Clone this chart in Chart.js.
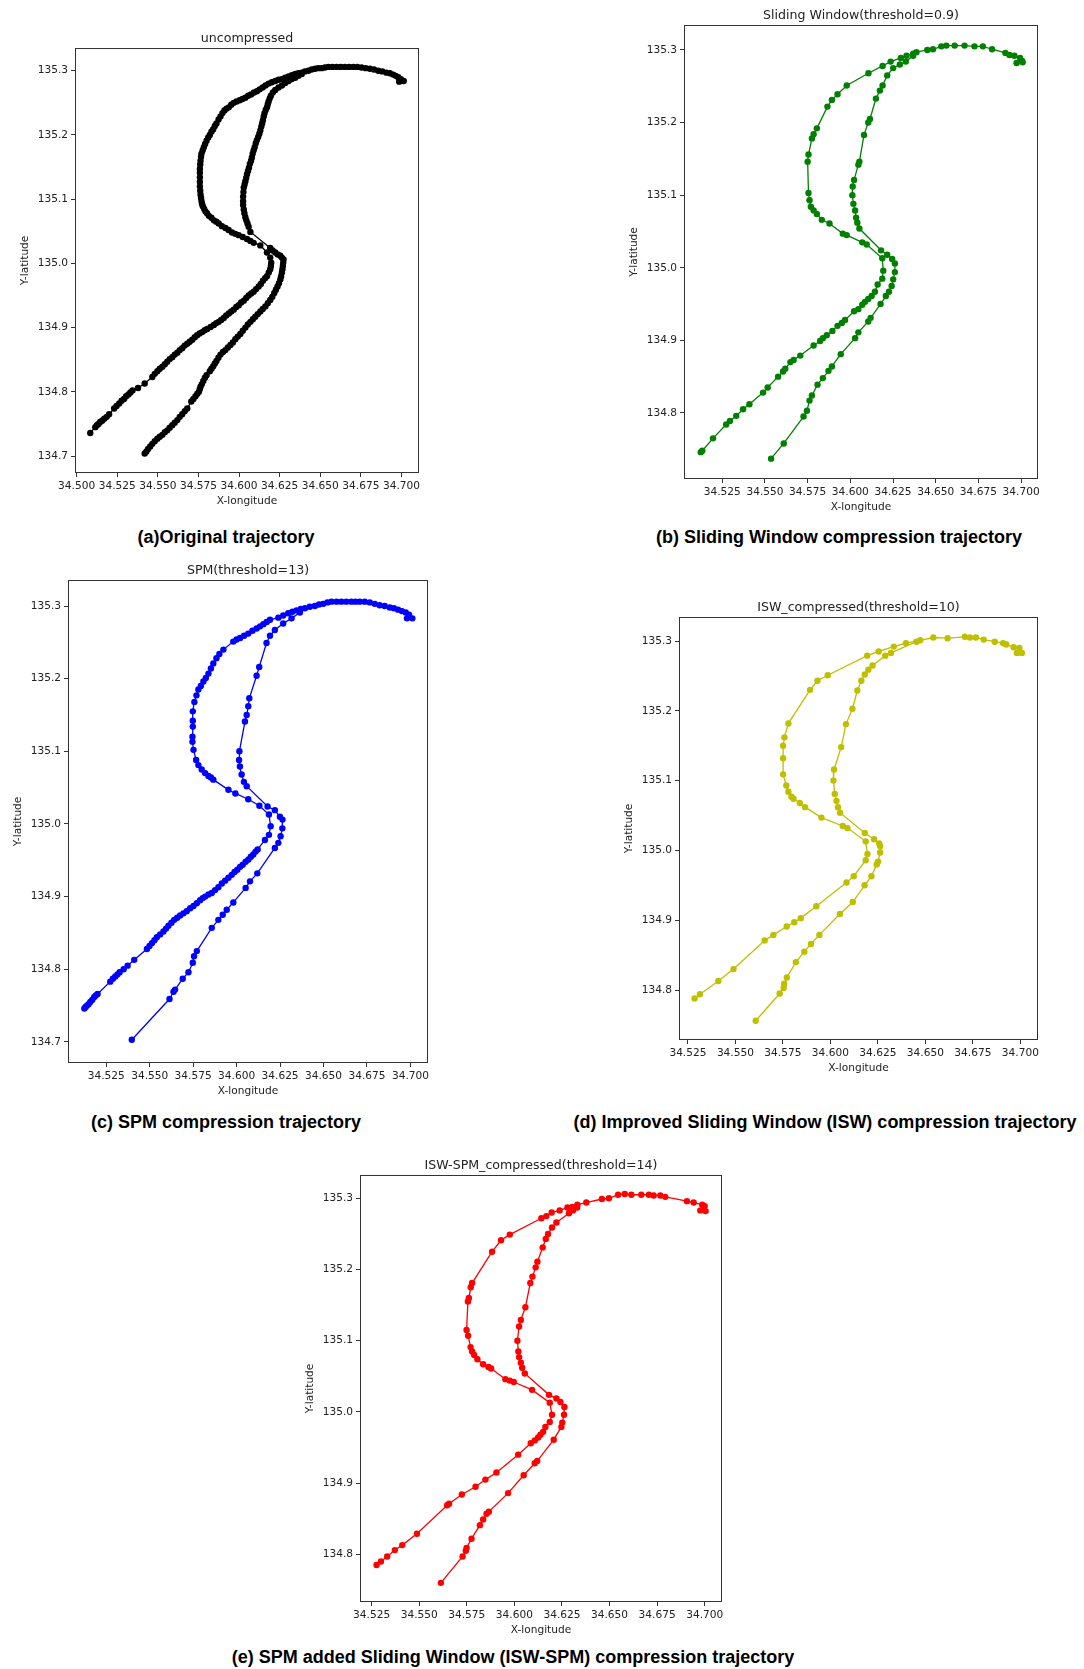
<!DOCTYPE html>
<html>
<head>
<meta charset="utf-8">
<script src="https://cdn.jsdelivr.net/npm/chart.js@4.4.0/dist/chart.umd.min.js"></script>
<style>
    body { margin: 0; background: #fff; width: 1084px; height: 1669px; position: relative; overflow: hidden; }
    canvas { position: absolute; }
    .caption {
        position: absolute;
        font: bold 18px "Liberation Sans", Arial, sans-serif;
        color: #000;
        white-space: nowrap;
        transform: translate(-50%, -50%);
    }
</style>
</head>
<body>
<canvas id="chart_a"></canvas>
<canvas id="chart_b"></canvas>
<canvas id="chart_c"></canvas>
<canvas id="chart_d"></canvas>
<canvas id="chart_e"></canvas>
<div class="caption" style="left:226px; top:537px">(a)Original trajectory</div>
<div class="caption" style="left:839px; top:537px">(b) Sliding Window compression trajectory</div>
<div class="caption" style="left:226px; top:1122px">(c) SPM compression trajectory</div>
<div class="caption" style="left:825px; top:1122px">(d) Improved Sliding Window (ISW) compression trajectory</div>
<div class="caption" style="left:513px; top:1657px">(e) SPM added Sliding Window (ISW-SPM) compression trajectory</div>
<script>
// (a) uncompressed trajectory, [longitude, latitude]
const origOuter = [
    [34.5084, 134.736], [34.5115, 134.745], [34.5125, 134.748], [34.5135, 134.750], [34.5145, 134.753],
    [34.5157, 134.755], [34.517, 134.758], [34.5185, 134.761], [34.52, 134.765],
    [34.5231, 134.774], [34.5246, 134.778], [34.5262, 134.782], [34.5277, 134.786], [34.5292, 134.789],
    [34.5305, 134.793], [34.5319, 134.796], [34.5331, 134.799], [34.5344, 134.802],
    [34.5378, 134.806], [34.5419, 134.813],
    [34.5466, 134.823], [34.5481, 134.828], [34.5497, 134.832], [34.5512, 134.836], [34.5528, 134.839],
    [34.5543, 134.843], [34.5558, 134.847], [34.5573, 134.851], [34.5589, 134.854], [34.5604, 134.858],
    [34.562, 134.861], [34.5635, 134.865], [34.565, 134.868], [34.5665, 134.872], [34.5681, 134.875],
    [34.5696, 134.878], [34.5712, 134.881], [34.5727, 134.885], [34.5742, 134.888], [34.5757, 134.891],
    [34.5773, 134.893], [34.5789, 134.896], [34.5804, 134.898], [34.5825, 134.901], [34.5845, 134.904],
    [34.586, 134.907], [34.5875, 134.909], [34.589, 134.912], [34.5906, 134.915], [34.5921, 134.919],
    [34.5937, 134.922], [34.5952, 134.925], [34.5967, 134.928], [34.5983, 134.932], [34.5998, 134.935],
    [34.6013, 134.939], [34.6029, 134.942], [34.6044, 134.946], [34.6059, 134.950], [34.6075, 134.953],
    [34.609, 134.956], [34.6105, 134.960], [34.6121, 134.964], [34.6134, 134.968], [34.6147, 134.973],
    [34.616, 134.977], [34.6172, 134.980], [34.6183, 134.986], [34.6192, 134.991], [34.6196, 134.996],
    [34.6198, 135.001], [34.6192, 135.009], [34.6172, 135.017],
    [34.6131, 135.028], [34.609, 135.032], [34.607, 135.035], [34.6049, 135.038], [34.6023, 135.041],
    [34.5998, 135.044], [34.5977, 135.046], [34.5957, 135.048], [34.5936, 135.052], [34.5916, 135.055],
    [34.5895, 135.058], [34.5875, 135.062], [34.586, 135.065], [34.5845, 135.067], [34.583, 135.071],
    [34.5814, 135.074], [34.5803, 135.078], [34.5793, 135.081], [34.5785, 135.085], [34.5777, 135.089],
    [34.5772, 135.093], [34.5769, 135.097], [34.5766, 135.102], [34.5763, 135.107], [34.5761, 135.113],
    [34.5759, 135.120], [34.5759, 135.127], [34.5759, 135.134], [34.5759, 135.141], [34.5759, 135.147],
    [34.5761, 135.154], [34.5763, 135.160], [34.5766, 135.166], [34.5769, 135.171], [34.5776, 135.176],
    [34.5783, 135.181], [34.5791, 135.186], [34.58, 135.191], [34.581, 135.196], [34.582, 135.200],
    [34.583, 135.205], [34.5841, 135.209], [34.5851, 135.214], [34.5861, 135.218], [34.5874, 135.224],
    [34.5886, 135.229], [34.5898, 135.234], [34.591, 135.238], [34.5923, 135.241], [34.5937, 135.243],
    [34.5952, 135.247], [34.5967, 135.250], [34.5985, 135.252], [34.6004, 135.254], [34.6021, 135.256],
    [34.6039, 135.258], [34.6056, 135.261], [34.6074, 135.263], [34.6092, 135.266], [34.611, 135.268],
    [34.6127, 135.271], [34.6145, 135.274], [34.6163, 135.277], [34.6182, 135.280], [34.6202, 135.282],
    [34.6223, 135.284], [34.6243, 135.286], [34.6264, 135.287], [34.6284, 135.289], [34.6305, 135.291],
    [34.6325, 135.293], [34.6346, 135.295], [34.6366, 135.296], [34.6386, 135.297], [34.6406, 135.299],
    [34.6427, 135.300], [34.6447, 135.302], [34.6468, 135.303], [34.6488, 135.304], [34.6509, 135.304],
    [34.6529, 135.305], [34.655, 135.306], [34.6575, 135.306], [34.6601, 135.306], [34.6626, 135.306],
    [34.6652, 135.306], [34.6677, 135.306], [34.6703, 135.306], [34.6728, 135.306], [34.6754, 135.305],
    [34.678, 135.304], [34.6806, 135.303], [34.6831, 135.302], [34.6857, 135.300], [34.6882, 135.299],
    [34.6908, 135.297], [34.6929, 135.296], [34.6949, 135.294], [34.6965, 135.292], [34.698, 135.290],
    [34.6996, 135.287], [34.6986, 135.283], [34.7014, 135.284]
];
const origInner = [
    [34.6386, 135.295], [34.6366, 135.292], [34.6346, 135.289], [34.6325, 135.287], [34.6305, 135.284],
    [34.6284, 135.281], [34.6264, 135.277], [34.6243, 135.274], [34.6223, 135.270], [34.6208, 135.266],
    [34.6196, 135.261], [34.6189, 135.257], [34.6182, 135.252], [34.6177, 135.248], [34.6172, 135.243],
    [34.6164, 135.239], [34.6157, 135.234], [34.6152, 135.229], [34.6147, 135.223], [34.6142, 135.218],
    [34.6137, 135.213], [34.6131, 135.207], [34.6125, 135.202], [34.6118, 135.197], [34.611, 135.192],
    [34.6103, 135.187], [34.6096, 135.181], [34.609, 135.176], [34.6084, 135.171], [34.6079, 135.165],
    [34.6074, 135.160], [34.6067, 135.155], [34.6061, 135.149], [34.6055, 135.144], [34.6049, 135.139],
    [34.6044, 135.133], [34.6039, 135.128], [34.6034, 135.123], [34.6029, 135.118], [34.6027, 135.111],
    [34.6025, 135.104], [34.6025, 135.097], [34.6025, 135.091], [34.6029, 135.084], [34.6033, 135.078],
    [34.6039, 135.072], [34.6045, 135.067], [34.6052, 135.062], [34.6059, 135.057], [34.607, 135.049],
    [34.6192, 135.024], [34.6207, 135.020], [34.6223, 135.017], [34.6238, 135.014], [34.6254, 135.012],
    [34.6264, 135.009], [34.6274, 135.006], [34.6272, 135.001], [34.627, 134.996], [34.6267, 134.991],
    [34.6264, 134.986], [34.6259, 134.980], [34.6254, 134.975], [34.6246, 134.969], [34.6237, 134.964],
    [34.6227, 134.959], [34.6217, 134.954], [34.6205, 134.948], [34.6192, 134.943], [34.6177, 134.938],
    [34.6162, 134.933], [34.6146, 134.929], [34.6131, 134.925], [34.6115, 134.921], [34.61, 134.917],
    [34.6085, 134.913], [34.607, 134.909], [34.6054, 134.905], [34.6039, 134.900], [34.6023, 134.895],
    [34.6008, 134.890], [34.5992, 134.886], [34.5977, 134.882], [34.5962, 134.877], [34.5947, 134.873],
    [34.5931, 134.869], [34.5916, 134.865], [34.5901, 134.862], [34.5886, 134.858], [34.5873, 134.853],
    [34.5861, 134.848], [34.5851, 134.844], [34.5841, 134.840], [34.583, 134.836], [34.582, 134.832],
    [34.58, 134.826], [34.579, 134.822], [34.578, 134.817], [34.5771, 134.812], [34.5763, 134.808],
    [34.5758, 134.804], [34.5753, 134.800], [34.5743, 134.797], [34.5732, 134.793], [34.5719, 134.789],
    [34.5706, 134.785], [34.5681, 134.774], [34.5666, 134.770], [34.565, 134.765], [34.5635, 134.761],
    [34.562, 134.756], [34.5604, 134.752], [34.5589, 134.748], [34.5573, 134.744], [34.5558, 134.740],
    [34.5543, 134.737], [34.5528, 134.733], [34.5512, 134.730], [34.5497, 134.727], [34.5481, 134.723],
    [34.5466, 134.719], [34.5453, 134.715], [34.544, 134.711], [34.543, 134.707], [34.5419, 134.704]
];

// (b) Sliding Window
const swOuter = [
    [34.5124, 134.746], [34.5133, 134.748], [34.5196, 134.765], [34.5273, 134.784], [34.5295, 134.789],
    [34.5332, 134.796], [34.5372, 134.805], [34.5409, 134.812], [34.5489, 134.828], [34.5516, 134.835],
    [34.5577, 134.850], [34.5606, 134.857], [34.5619, 134.861], [34.5649, 134.870], [34.5668, 134.873],
    [34.5707, 134.879], [34.5785, 134.893], [34.5823, 134.899], [34.5839, 134.903], [34.5862, 134.907],
    [34.5895, 134.913], [34.5925, 134.920], [34.595, 134.924], [34.5969, 134.928], [34.6022, 134.940],
    [34.6047, 134.943], [34.607, 134.949], [34.6086, 134.953], [34.6105, 134.957], [34.6125, 134.961],
    [34.6144, 134.967], [34.616, 134.977], [34.6187, 134.985], [34.6193, 134.996], [34.6187, 135.013],
    [34.6096, 135.032], [34.607, 135.035], [34.5979, 135.045], [34.5956, 135.047], [34.5878, 135.061],
    [34.5833, 135.066], [34.5804, 135.074], [34.5785, 135.079], [34.5769, 135.084], [34.5761, 135.093],
    [34.5755, 135.103], [34.575, 135.146], [34.5755, 135.156], [34.5775, 135.178], [34.5785, 135.184],
    [34.5804, 135.192], [34.5866, 135.222], [34.5892, 135.231], [34.5925, 135.239], [34.5979, 135.251],
    [34.6106, 135.268], [34.6189, 135.278], [34.6236, 135.284], [34.6296, 135.289], [34.6329, 135.292],
    [34.6368, 135.295], [34.6387, 135.297], [34.6451, 135.300], [34.6484, 135.301], [34.6533, 135.305],
    [34.6562, 135.306], [34.6611, 135.306], [34.6669, 135.306], [34.6727, 135.305], [34.6776, 135.305],
    [34.683, 135.301], [34.6908, 135.296], [34.6932, 135.293], [34.6961, 135.292], [34.6994, 135.289],
    [34.7006, 135.285], [34.6974, 135.282], [34.7009, 135.283]
];
const swInner = [
    [34.6368, 135.292], [34.6325, 135.284], [34.629, 135.280], [34.6251, 135.275], [34.6216, 135.265],
    [34.6189, 135.251], [34.6173, 135.244], [34.615, 135.233], [34.6115, 135.205], [34.6105, 135.200],
    [34.608, 135.183], [34.6053, 135.146], [34.6047, 135.142], [34.6022, 135.121], [34.6014, 135.112],
    [34.6012, 135.100], [34.6018, 135.088], [34.6028, 135.079], [34.6034, 135.069], [34.6041, 135.062],
    [34.6053, 135.054], [34.618, 135.024], [34.6216, 135.018], [34.6245, 135.012], [34.6261, 135.006],
    [34.6261, 134.994], [34.6251, 134.984], [34.6242, 134.975], [34.6226, 134.967], [34.6208, 134.961],
    [34.6177, 134.950], [34.6119, 134.931], [34.6105, 134.926], [34.6047, 134.911], [34.6028, 134.903],
    [34.5944, 134.881], [34.5892, 134.864], [34.5872, 134.858], [34.5839, 134.848], [34.5808, 134.839],
    [34.5775, 134.824], [34.5761, 134.817], [34.5746, 134.803], [34.5726, 134.795], [34.561, 134.758],
    [34.5536, 134.737]
];

// (c) SPM
const spmOuter = [
    [34.5124, 134.746], [34.5131, 134.748], [34.5139, 134.750], [34.5148, 134.752], [34.5158, 134.755],
    [34.517, 134.758], [34.5181, 134.762], [34.519, 134.764], [34.52, 134.766],
    [34.5273, 134.783], [34.5288, 134.787], [34.5302, 134.790], [34.5315, 134.793], [34.5327, 134.796],
    [34.535, 134.800], [34.5373, 134.805], [34.5411, 134.813],
    [34.5484, 134.828], [34.5499, 134.832], [34.5513, 134.836], [34.5527, 134.840], [34.5541, 134.844],
    [34.556, 134.848], [34.5579, 134.852], [34.5594, 134.856], [34.5608, 134.860], [34.5625, 134.864],
    [34.5641, 134.868], [34.5658, 134.871], [34.5675, 134.874], [34.5694, 134.877], [34.5713, 134.880],
    [34.5733, 134.884], [34.5752, 134.887], [34.5771, 134.891], [34.579, 134.895], [34.5805, 134.898],
    [34.5819, 134.900], [34.5838, 134.903], [34.5857, 134.905], [34.5876, 134.909], [34.5895, 134.913],
    [34.5915, 134.918], [34.5934, 134.922], [34.5953, 134.926], [34.5972, 134.930], [34.5988, 134.934],
    [34.6004, 134.937], [34.602, 134.941], [34.6035, 134.944], [34.6052, 134.948], [34.6068, 134.951],
    [34.6082, 134.955], [34.6096, 134.958], [34.6109, 134.962], [34.6121, 134.965],
    [34.6163, 134.978], [34.6186, 134.985], [34.6196, 134.997], [34.6186, 135.013], [34.6131, 135.025],
    [34.6067, 135.034], [34.5993, 135.042], [34.5953, 135.047], [34.5866, 135.061], [34.5852, 135.064],
    [34.5838, 135.066], [34.5819, 135.070], [34.5799, 135.075], [34.578, 135.081], [34.5767, 135.088],
    [34.5752, 135.102], [34.5746, 135.113], [34.5746, 135.120], [34.5748, 135.134], [34.5748, 135.142],
    [34.5748, 135.155], [34.5757, 135.168], [34.5769, 135.177], [34.578, 135.185], [34.5794, 135.190],
    [34.5809, 135.196], [34.5823, 135.201], [34.5838, 135.207], [34.5852, 135.214], [34.5866, 135.221],
    [34.5884, 135.228], [34.5901, 135.234], [34.5924, 135.240], [34.5981, 135.251], [34.600, 135.254],
    [34.602, 135.256], [34.6043, 135.259], [34.6067, 135.262], [34.6091, 135.266], [34.6115, 135.269],
    [34.6135, 135.272], [34.6154, 135.275], [34.6173, 135.278], [34.6192, 135.281], [34.624, 135.284],
    [34.6268, 135.287], [34.6297, 135.290], [34.6321, 135.292], [34.6345, 135.294], [34.6369, 135.296],
    [34.6393, 135.297], [34.6421, 135.299], [34.645, 135.300], [34.6474, 135.302], [34.6498, 135.303],
    [34.6522, 135.305], [34.6546, 135.306], [34.6575, 135.306], [34.6603, 135.306], [34.6631, 135.306],
    [34.666, 135.306], [34.6684, 135.306], [34.6708, 135.306], [34.6737, 135.306], [34.6766, 135.305],
    [34.6795, 135.303], [34.6823, 135.301], [34.6852, 135.300], [34.6881, 135.298], [34.6905, 135.297],
    [34.6929, 135.295], [34.6951, 135.293], [34.6973, 135.291], [34.6992, 135.288], [34.698, 135.283],
    [34.7011, 135.283]
];
const spmInner = [
    [34.6364, 135.291], [34.6316, 135.283], [34.6268, 135.276], [34.622, 135.267], [34.6192, 135.259],
    [34.6172, 135.249], [34.613, 135.216], [34.6115, 135.204], [34.6073, 135.173], [34.6067, 135.162],
    [34.6058, 135.150], [34.6048, 135.141], [34.6016, 135.100], [34.6014, 135.088], [34.6019, 135.079],
    [34.6029, 135.068], [34.6042, 135.058], [34.6058, 135.052], [34.6178, 135.024], [34.622, 135.019],
    [34.6249, 135.010], [34.6264, 135.006], [34.6263, 134.994], [34.6253, 134.983], [34.624, 134.974],
    [34.622, 134.967], [34.6119, 134.932], [34.6077, 134.921], [34.6052, 134.912], [34.5981, 134.892],
    [34.5943, 134.882], [34.592, 134.875], [34.5895, 134.868], [34.5857, 134.857], [34.5771, 134.825],
    [34.5755, 134.818], [34.5748, 134.809], [34.5723, 134.796], [34.569, 134.787], [34.5646, 134.772],
    [34.5637, 134.769], [34.5614, 134.759], [34.5397, 134.703]
];

// (d) ISW
const iswOuter = [
    [34.5285, 134.788], [34.5313, 134.794], [34.541, 134.813], [34.549, 134.830], [34.5654, 134.871],
    [34.570, 134.879], [34.577, 134.891], [34.581, 134.897], [34.5844, 134.903], [34.5926, 134.920],
    [34.6085, 134.954], [34.6123, 134.963], [34.6186, 134.986], [34.6195, 134.995], [34.6186, 135.013],
    [34.609, 135.032], [34.6065, 135.035], [34.5953, 135.047], [34.5867, 135.062], [34.5839, 135.068],
    [34.5806, 135.074], [34.5795, 135.077], [34.5779, 135.084], [34.5768, 135.093], [34.5751, 135.109],
    [34.5751, 135.132], [34.5751, 135.150], [34.5758, 135.162], [34.5779, 135.182], [34.5893, 135.230],
    [34.5932, 135.243], [34.5986, 135.251], [34.6194, 135.279], [34.6254, 135.285], [34.6334, 135.292],
    [34.6398, 135.297], [34.6473, 135.301], [34.6542, 135.305], [34.6617, 135.304], [34.6708, 135.306],
    [34.6735, 135.305], [34.6766, 135.305], [34.6807, 135.302], [34.6865, 135.299], [34.6909, 135.297],
    [34.6926, 135.295], [34.6965, 135.291], [34.6995, 135.290], [34.6982, 135.283], [34.7008, 135.283]
];
const iswInner = [
    [34.6453, 135.299], [34.6319, 135.283], [34.6289, 135.279], [34.6222, 135.265], [34.620, 135.259],
    [34.6181, 135.252], [34.6163, 135.243], [34.6142, 135.229], [34.6116, 135.203], [34.6082, 135.181],
    [34.6057, 135.148], [34.6019, 135.116], [34.6016, 135.100], [34.6023, 135.081], [34.6032, 135.071],
    [34.604, 135.062], [34.6051, 135.054], [34.6181, 135.025], [34.623, 135.016], [34.6257, 135.010],
    [34.6262, 135.006], [34.6262, 134.997], [34.6251, 134.984], [34.6244, 134.980], [34.6216, 134.963],
    [34.618, 134.950], [34.6118, 134.926], [34.605, 134.909], [34.5942, 134.879], [34.5898, 134.866],
    [34.5863, 134.855], [34.5818, 134.840], [34.5771, 134.818], [34.5757, 134.809], [34.5754, 134.803],
    [34.5733, 134.795], [34.5607, 134.756]
];

// (e) ISW-SPM
const iswSpmOuter = [
    [34.5276, 134.785], [34.5299, 134.790], [34.5332, 134.797], [34.5372, 134.806], [34.5411, 134.813],
    [34.5488, 134.829], [34.5647, 134.869], [34.5657, 134.871], [34.5724, 134.884], [34.5796, 134.895],
    [34.5848, 134.905], [34.5906, 134.915], [34.602, 134.940], [34.6086, 134.956], [34.6107, 134.960],
    [34.6125, 134.964], [34.6137, 134.968], [34.6151, 134.972], [34.6163, 134.979], [34.6186, 134.986],
    [34.6198, 134.996], [34.6186, 135.013], [34.6093, 135.031], [34.5997, 135.042], [34.5976, 135.044],
    [34.5953, 135.046], [34.5878, 135.061], [34.5864, 135.063], [34.5836, 135.067], [34.5806, 135.074],
    [34.5789, 135.080], [34.5778, 135.085], [34.577, 135.091], [34.5757, 135.107], [34.5749, 135.115],
    [34.5756, 135.155], [34.5761, 135.160], [34.5771, 135.175], [34.5778, 135.181], [34.5883, 135.225],
    [34.593, 135.241], [34.5976, 135.249], [34.6142, 135.272], [34.6168, 135.275], [34.6196, 135.280],
    [34.6238, 135.283], [34.6279, 135.287], [34.6305, 135.288], [34.6331, 135.291], [34.6378, 135.294],
    [34.646, 135.299], [34.6497, 135.300], [34.6545, 135.305], [34.658, 135.306], [34.6615, 135.305],
    [34.6667, 135.305], [34.6707, 135.305], [34.6732, 135.304], [34.6767, 135.304], [34.6793, 135.302],
    [34.6907, 135.296], [34.6942, 135.294], [34.6987, 135.291], [34.700, 135.289], [34.6977, 135.283],
    [34.7005, 135.282]
];
const iswSpmInner = [
    [34.633, 135.287], [34.6308, 135.283], [34.6287, 135.279], [34.6221, 135.266], [34.6198, 135.259],
    [34.6177, 135.250], [34.6165, 135.243], [34.6149, 135.231], [34.6121, 135.211], [34.6112, 135.203],
    [34.6095, 135.190], [34.6084, 135.181], [34.6058, 135.147], [34.6034, 135.129], [34.6025, 135.120],
    [34.6016, 135.100], [34.6021, 135.085], [34.6025, 135.077], [34.6034, 135.069], [34.6041, 135.062],
    [34.6055, 135.054], [34.6182, 135.024], [34.6221, 135.019], [34.6242, 135.014], [34.6263, 135.007],
    [34.6261, 134.996], [34.6252, 134.985], [34.6247, 134.979], [34.6207, 134.961], [34.612, 134.931],
    [34.6107, 134.928], [34.6049, 134.911], [34.5967, 134.886], [34.5866, 134.860], [34.5854, 134.857],
    [34.5836, 134.849], [34.5819, 134.841], [34.5775, 134.822], [34.5749, 134.809], [34.5745, 134.805],
    [34.5728, 134.797], [34.5614, 134.760]
];

// axis ranges [min, max]
const xRangeA = [34.499, 34.7108], yRangeA = [134.6736, 135.3354];
const xRangeB = [34.5026, 34.7099], yRangeB = [134.709, 135.3344];
const xRangeC = [34.503, 34.7101], yRangeC = [134.671, 135.3358];
const xRangeD = [34.5203, 34.7093], yRangeD = [134.7284, 135.3344];
const xRangeE = [34.5189, 34.7091], yRangeE = [134.7331, 135.3327];

const FONT = 'DejaVu Sans';
const PAD_L = 60, PAD_R = 60, PAD_T = 20, PAD_B = 40;

// matplotlib style full box round the axes
const frameBox = {
    id: 'frameBox',
    afterDraw(chart) {
        const a = chart.chartArea;
        const ctx = chart.ctx;
        ctx.save();
        ctx.strokeStyle = '#333';
        ctx.lineWidth = 1;
        ctx.strokeRect(Math.round(a.left) + 0.5, Math.round(a.top) + 0.5,
            Math.round(a.right - a.left) - 1, Math.round(a.bottom - a.top) - 1);
        ctx.restore();
    }
};

function toPoints(list) {
    return list.map(p => ({x: p[0], y: p[1]}));
}

function trackSet(list, color) {
    return {
        data: toPoints(list),
        showLine: true,
        borderColor: color,
        backgroundColor: color,
        borderWidth: 1.3,
        pointRadius: 3.2,
        pointBorderWidth: 0,
        pointHoverRadius: 3.2
    };
}

function draw_track(id, frame, title, color, outer, inner, xRange, yRange) {
    const canvas = document.getElementById(id);
    canvas.width = frame.r - frame.l + PAD_L + PAD_R;
    canvas.height = frame.b - frame.t + PAD_T + PAD_B;
    canvas.style.left = (frame.l - PAD_L) + 'px';
    canvas.style.top = (frame.t - PAD_T) + 'px';

    const tickFont = {family: FONT, size: 10.6};
    const config = {
        type: 'scatter',
        data: {datasets: [trackSet(outer, color), trackSet(inner, color)]},
        options: {
            responsive: false,
            animation: false,
            devicePixelRatio: 1,
            layout: {padding: {top: 0, right: PAD_R, bottom: 0, left: 0}},
            plugins: {
                legend: {display: false},
                tooltip: {enabled: false},
                title: {
                    display: true,
                    fullSize: false,
                    text: title,
                    color: '#222',
                    font: {family: FONT, size: 12.6, weight: 'normal', lineHeight: '15px'},
                    padding: {top: 3.5, bottom: 1.5}
                }
            },
            scales: {
                x: {
                    type: 'linear',
                    min: xRange[0],
                    max: xRange[1],
                    afterFit: (scale) => { scale.height = PAD_B; },
                    grid: {drawOnChartArea: false, tickLength: 4, color: '#333'},
                    border: {display: false},
                    ticks: {
                        stepSize: 0.025,
                        includeBounds: false,
                        autoSkip: false,
                        maxRotation: 0,
                        padding: 3,
                        color: '#222',
                        font: tickFont,
                        callback: (v) => v.toFixed(3)
                    },
                    title: {
                        display: true,
                        text: 'X-longitude',
                        color: '#222',
                        font: {family: FONT, size: 10.6, lineHeight: '12px'},
                        padding: {top: 0, bottom: 6}
                    }
                },
                y: {
                    type: 'linear',
                    min: yRange[0],
                    max: yRange[1],
                    afterFit: (scale) => { scale.width = PAD_L; },
                    grid: {drawOnChartArea: false, tickLength: 4, color: '#333'},
                    border: {display: false},
                    ticks: {
                        stepSize: 0.1,
                        includeBounds: false,
                        autoSkip: false,
                        padding: 3,
                        color: '#222',
                        font: tickFont,
                        callback: (v) => v.toFixed(1)
                    },
                    title: {
                        display: true,
                        text: 'Y-latitude',
                        color: '#222',
                        font: {family: FONT, size: 10.6, lineHeight: '12px'},
                        padding: {top: 4, bottom: 0}
                    }
                }
            }
        },
        plugins: [frameBox]
    };
    return new Chart(canvas.getContext('2d'), config);
}

draw_track('chart_a', {l: 75, t: 48, r: 419, b: 473}, 'uncompressed', '#000000',
    origOuter, origInner, xRangeA, yRangeA);
draw_track('chart_b', {l: 684, t: 25, r: 1038, b: 479}, 'Sliding Window(threshold=0.9)', '#008000',
    swOuter, swInner, xRangeB, yRangeB);
draw_track('chart_c', {l: 68, t: 580, r: 428, b: 1063}, 'SPM(threshold=13)', '#0000ff',
    spmOuter, spmInner, xRangeC, yRangeC);
draw_track('chart_d', {l: 679, t: 617, r: 1038, b: 1040}, 'ISW_compressed(threshold=10)', '#bfbf00',
    iswOuter, iswInner, xRangeD, yRangeD);
draw_track('chart_e', {l: 360, t: 1175, r: 722, b: 1602}, 'ISW-SPM_compressed(threshold=14)', '#ff0000',
    iswSpmOuter, iswSpmInner, xRangeE, yRangeE);
</script>
</body>
</html>
